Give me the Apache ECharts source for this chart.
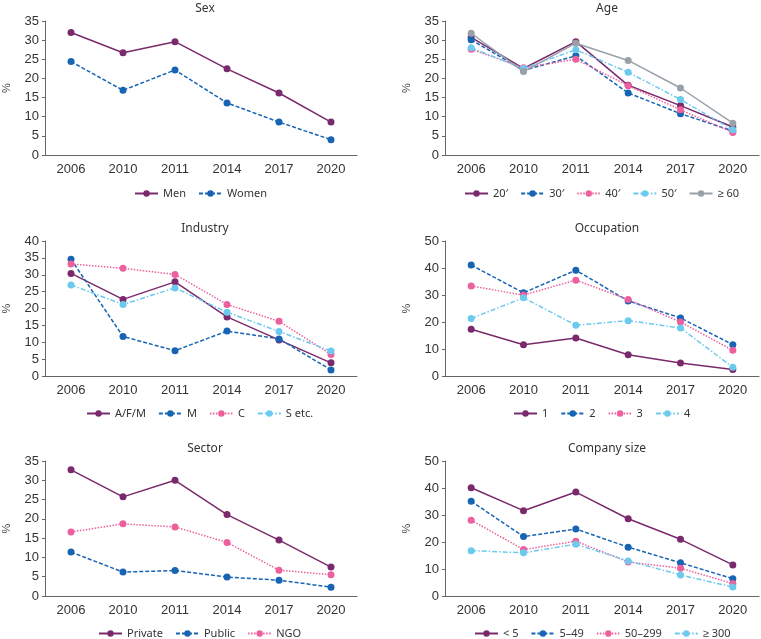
<!DOCTYPE html>
<html><head><meta charset="utf-8">
<script src="https://cdn.jsdelivr.net/npm/echarts@6/dist/echarts.min.js"></script>
<style>html,body{margin:0;padding:0;background:#fff}#c{width:761px;height:639px}</style>
</head><body><div id="c"></div>
<script>
const years = ['2006','2010','2011','2014','2017','2020'];

const sexNames = ['Men','Women'];
const sexMen   = [32.0, 26.7, 29.6, 22.5, 16.2, 8.6];
const sexWomen = [24.4, 16.9, 22.2, 13.6, 8.6, 4.0];

const ageNames = ["20′","30′","40′","50′","≥ 60"];
const age20 = [30.7, 22.6, 29.6, 18.2, 12.9, 7.3];
const age30 = [30.1, 22.1, 25.9, 16.2, 10.8, 6.3];
const age40 = [27.6, 22.8, 25.0, 18.1, 11.8, 5.9];
const age50 = [28.0, 22.6, 27.5, 21.6, 14.5, 6.6];
const age60 = [31.8, 21.8, 29.2, 24.7, 17.5, 8.3];

const indNames = ['A/F/M','M','C','S etc.'];
const indAFM = [30.4, 22.7, 27.9, 17.5, 10.7, 3.9];
const indM   = [34.6, 11.7, 7.5, 13.3, 11.0, 1.8];
const indC   = [33.2, 31.9, 30.1, 21.2, 16.2, 6.4];
const indS   = [27.0, 21.2, 26.1, 18.9, 13.2, 7.4];

const occNames = ['1','2','3','4'];
const occ1 = [17.3, 11.6, 14.1, 7.9, 4.8, 2.4];
const occ2 = [41.1, 30.8, 39.2, 27.8, 21.5, 11.6];
const occ3 = [33.3, 30.0, 35.5, 28.3, 20.0, 9.5];
const occ4 = [21.3, 29.0, 18.8, 20.5, 17.8, 3.2];

const secNames = ['Private','Public','NGO'];
const secPrivate = [32.7, 25.7, 30.0, 21.1, 14.5, 7.5];
const secPublic  = [11.4, 6.2, 6.6, 4.9, 4.1, 2.3];
const secNGO     = [16.6, 18.7, 17.9, 13.9, 6.7, 5.5];

const sizeNames = ['< 5','5–49','50–299','≥ 300'];
const size5   = [40.1, 31.6, 38.5, 28.6, 21.0, 11.5];
const size49  = [35.1, 22.0, 24.8, 18.1, 12.3, 6.4];
const size299 = [28.1, 17.2, 20.3, 12.6, 10.3, 4.6];
const size300 = [16.8, 16.0, 19.2, 13.0, 7.8, 3.3];

const panelTitles = ['Sex','Age','Industry','Occupation','Sector','Company size'];
const yMax = [35, 35, 40, 50, 35, 50];
const yInt = [5, 5, 5, 10, 5, 10];

const C_PURPLE = '#7a2a6c', C_BLUE = '#1764b4', C_PINK = '#ec619d', C_LBLUE = '#6ccaee', C_GRAY = '#98a1aa';
const styles = [
  {color: C_PURPLE, type: 'solid'},
  {color: C_BLUE, type: [4, 2]},
  {color: C_PINK, type: [1.5, 1.5]},
  {color: C_LBLUE, type: [5, 2, 1.5, 2]},
  {color: C_GRAY, type: 'solid'}
];

const panels = [
  {names: sexNames, data: [sexMen, sexWomen]},
  {names: ageNames, data: [age20, age30, age40, age50, age60]},
  {names: indNames, data: [indAFM, indM, indC, indS]},
  {names: occNames, data: [occ1, occ2, occ3, occ4]},
  {names: secNames, data: [secPrivate, secPublic, secNGO]},
  {names: sizeNames, data: [size5, size49, size299, size300]}
];

const AX_FONT = "Arial, 'Liberation Sans', sans-serif";
const LG_FONT = "'Noto Sans', sans-serif";
const lefts = [43, 445];
const tops = [21, 241, 461];
const W = 314, H = 135;

const grid = [], xAxis = [], yAxis = [], series = [], title = [], legend = [];
panels.forEach((p, i) => {
  const col = i % 2, row = Math.floor(i / 2);
  const L = lefts[col], T = tops[row];
  grid.push({left: L, top: T, width: W, height: H - (row === 0 ? 1 : 0)});
  title.push({text: panelTitles[i], left: L + W / 2, top: T - 23, textAlign: 'center',
    textStyle: {fontFamily: LG_FONT, fontSize: 12, fontWeight: 'normal', color: '#333'}});
  xAxis.push({type: 'category', gridIndex: i, data: years, boundaryGap: true,
    axisLine: {lineStyle: {color: '#666', width: 1}},
    axisTick: {alignWithLabel: true, length: 4, lineStyle: {color: '#666'}},
    axisLabel: {fontFamily: AX_FONT, fontSize: 13, color: '#333', margin: 8}});
  yAxis.push({type: 'value', gridIndex: i, min: 0, max: yMax[i], interval: yInt[i],
    name: '%', nameLocation: 'middle', nameRotate: 90, nameGap: 33,
    nameTextStyle: {fontFamily: AX_FONT, fontSize: 11, color: '#444'},
    axisLine: {show: true, lineStyle: {color: '#666', width: 1}},
    axisTick: {show: true, length: 3, lineStyle: {color: '#666'}},
    splitLine: {show: false},
    axisLabel: {fontFamily: AX_FONT, fontSize: 13, color: '#333', margin: 6}});
  p.names.forEach((n, k) => {
    const st = styles[k];
    series.push({type: 'line', name: n, xAxisIndex: i, yAxisIndex: i, data: p.data[k],
      symbol: 'circle', symbolSize: 7, z: 2 + k,
      itemStyle: {color: st.color},
      lineStyle: {color: st.color, width: 1.5, type: st.type}});
  });
  legend.push({data: p.names, left: 0, top: T + H + 27,
    itemWidth: 23, itemHeight: 8, itemGap: 12,
    textStyle: {fontFamily: LG_FONT, fontSize: 11, color: '#333'}, _cx: L + W / 2});
});

const chart = echarts.init(document.getElementById('c'), null, {renderer: 'canvas'});
chart.setOption({animation: false, title, grid, xAxis, yAxis, series,
  legend: legend.map(o => { const c = Object.assign({}, o); delete c._cx; return c; })});
const model = chart.getModel();
const newLegends = legend.map((o, i) => {
  const lm = model.getComponent('legend', i);
  const view = chart.getViewOfComponentModel(lm);
  const rect = view.group.getBoundingRect();
  return {left: Math.round(o._cx - rect.width / 2)};
});
chart.setOption({legend: newLegends});
</script></body></html>
